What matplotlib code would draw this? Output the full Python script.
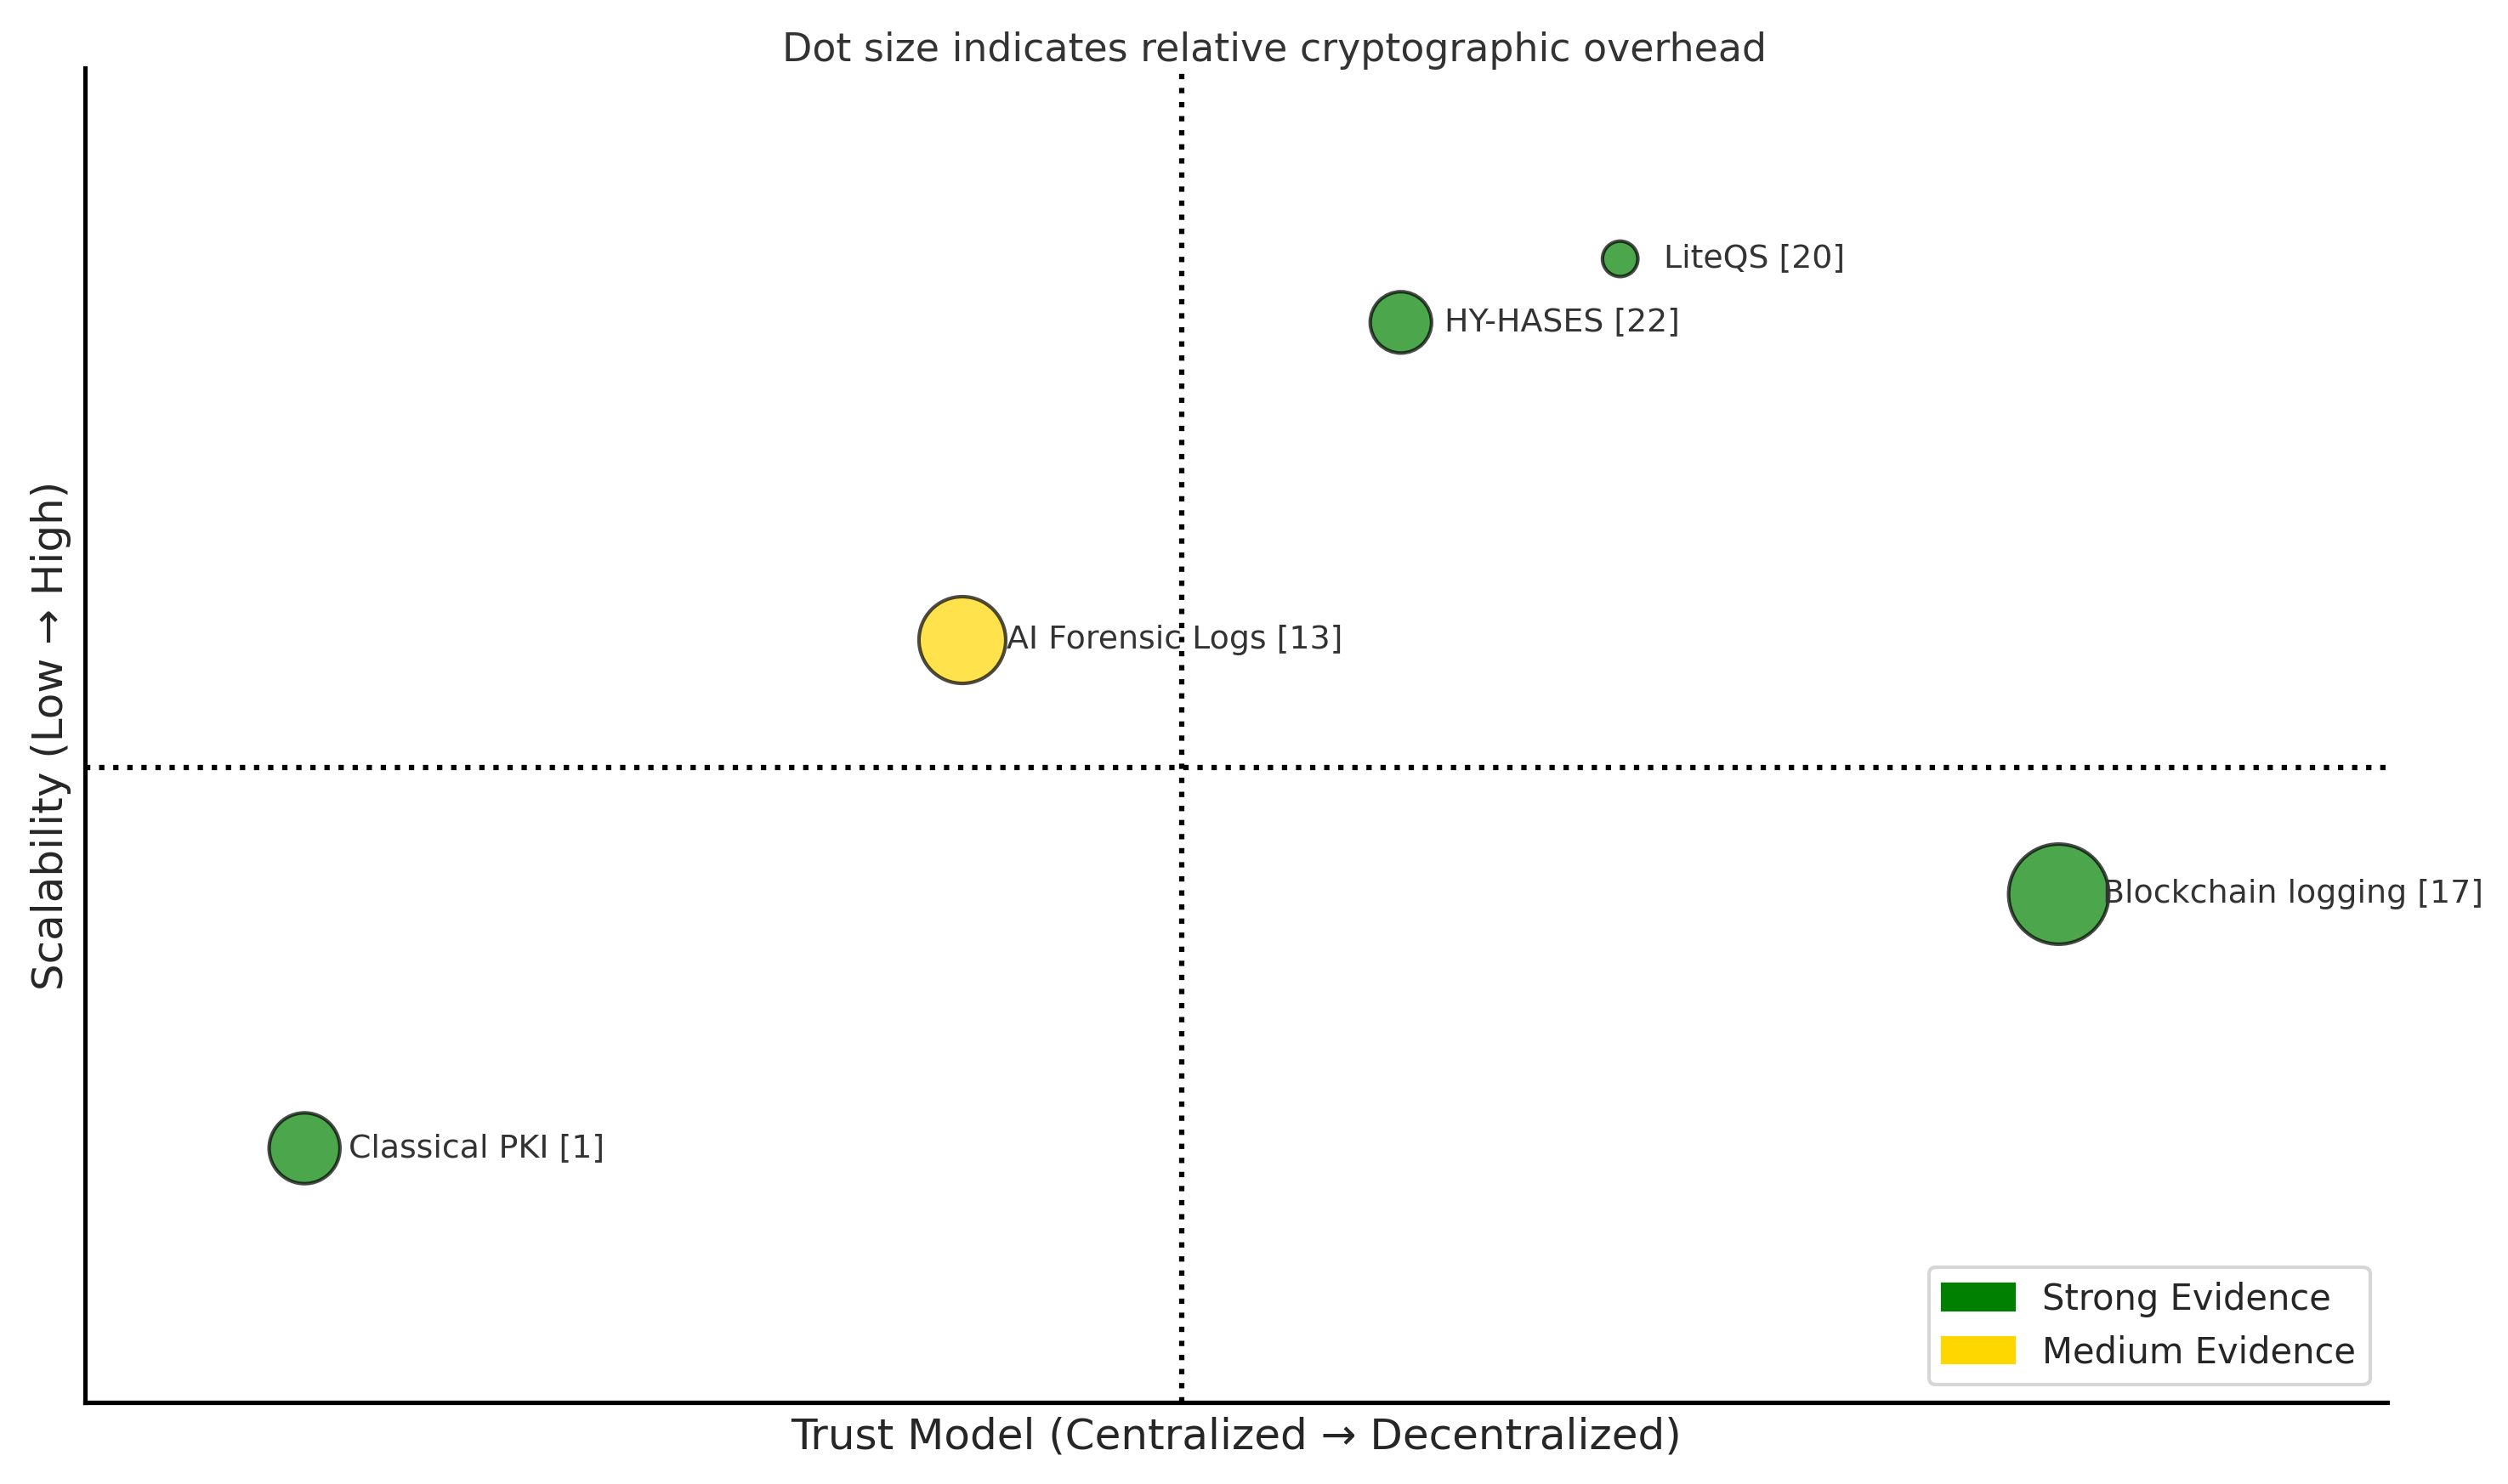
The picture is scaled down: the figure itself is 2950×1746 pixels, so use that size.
import matplotlib
matplotlib.use('Agg')
import matplotlib.pyplot as plt
from matplotlib.patches import Patch
import seaborn as sns

sns.set_theme(style="white")
plt.rcParams['font.family'] = ['DejaVu Sans']

# approaches placed on trust model (x) vs scalability (y)
names = ["Classical PKI [1]", "AI Forensic Logs [13]", "HY-HASES [22]",
         "LiteQS [20]", "Blockchain logging [17]"]
trust = [0.1, 0.4, 0.6, 0.7, 0.9]
scalability = [0.2, 0.6, 0.85, 0.9, 0.4]
overhead = [400, 600, 300, 100, 800]
evidence = ["Strong", "Medium", "Strong", "Strong", "Strong"]

evidence_colors = {"Strong": "green", "Medium": "gold"}
colors = [evidence_colors[e] for e in evidence]

fig = plt.figure(figsize=(2950 / 300, 1746 / 300), dpi=300)
ax = fig.add_axes([0.034, 0.055, 0.918, 0.899])

ax.scatter(trust, scalability, s=overhead, c=colors, alpha=0.7,
           edgecolors="black", linewidths=1, zorder=3)
for name, x, y in zip(names, trust, scalability):
    ax.text(x + 0.02, y, name, va="center", fontsize=9.1, color="#333333",
            clip_on=False, zorder=4)

ax.axvline(0.5, color="black", linestyle=":", linewidth=1.5)
ax.axhline(0.5, color="black", linestyle=":", linewidth=1.5)

ax.set_xlim(0, 1.05)
ax.set_ylim(0, 1.05)
ax.set_xticks([])
ax.set_yticks([])
ax.set_xlabel("Trust Model (Centralized \u2192 Decentralized)", fontsize=12)
ax.set_ylabel("Scalability (Low \u2192 High)", fontsize=12)
for side in ["top", "right"]:
    ax.spines[side].set_visible(False)
for side in ["left", "bottom"]:
    ax.spines[side].set_color("black")

fig.text(0.508, 0.966, "Dot size indicates relative cryptographic overhead",
         ha="center", va="center", fontsize=11, color="#333333")

handles = [Patch(color="green", label="Strong Evidence"),
           Patch(color="gold", label="Medium Evidence")]
ax.legend(handles=handles, loc="lower right", fontsize=10)

plt.savefig("out.png", dpi=300)
